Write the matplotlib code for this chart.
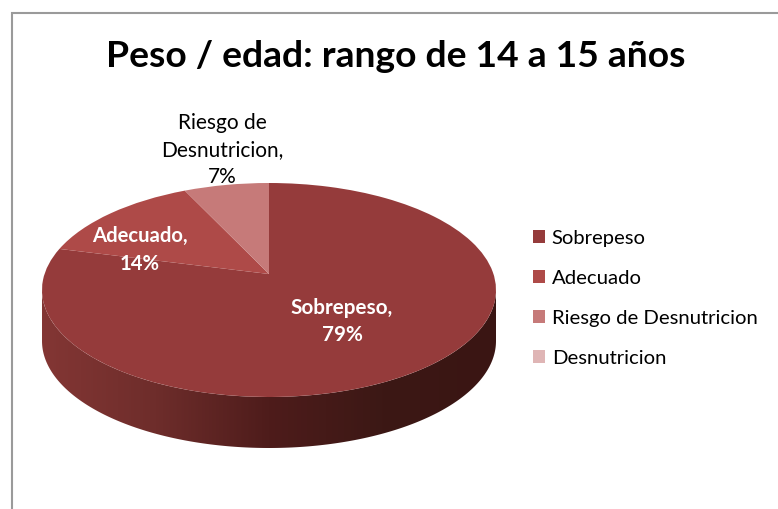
import numpy as np
import matplotlib
matplotlib.use('Agg')
import matplotlib.pyplot as plt
from matplotlib.colors import LinearSegmentedColormap
from matplotlib.patches import Polygon
from matplotlib.transforms import Transform

plt.rcParams['font.family'] = ['Lato', 'DejaVu Sans']

# data
categories = ['Sobrepeso', 'Adecuado', 'Riesgo de Desnutricion', 'Desnutricion']
values = [79, 14, 7, 0]
colors = ['#953b3b', '#ae4a48', '#c67a79', '#dfb5b5']
title = 'Peso / edad: rango de 14 a 15 años'

wall_colors = ['#833634', '#6e2d2b', '#4e1c1b', '#3c1815', '#3a1513']

# pie geometry in pixels
cx, cy = 269, 274
back, front, half_width = 91, 123, 227
depth = 51
k = (front - back) / (front + back)
a = back * (1 + k)
b = half_width * np.sqrt(1 - k * k)


# tilts the flat pie like a 3d one, the apex sits above the ellipse centre
class Tilt(Transform):
    input_dims = 2
    output_dims = 2

    def transform_non_affine(self, values):
        values = np.asarray(values, dtype=float)
        d = 1 + k * values[:, 1]
        return np.column_stack((cx + b * values[:, 0] / d, cy - a * values[:, 1] / d))


fig = plt.figure(figsize=(7.78, 5.09), dpi=100)
ax = fig.add_axes([0, 0, 1, 1])

wedges, _ = ax.pie(values, colors=colors, startangle=90, counterclock=False,
                   wedgeprops={'linewidth': 0})
for w in wedges:
    w.set_transform(Tilt() + ax.transData)
    w.set_zorder(3)

# side wall of the disc
ell_cy = cy + (front - back) / 2
ell_ry = (front + back) / 2
t = np.linspace(0, np.pi, 200)
top_x = cx + half_width * np.cos(t)
top_y = ell_cy + ell_ry * np.sin(t)
outline = np.column_stack((np.r_[top_x, top_x[::-1]], np.r_[top_y, top_y[::-1] + depth]))
wall = Polygon(outline, closed=True, facecolor='none', edgecolor='none',
               transform=ax.transData)
ax.add_patch(wall)
cmap = LinearSegmentedColormap.from_list('wall', wall_colors[::-1])
gradient = np.linspace(0, 1, 256).reshape(1, -1)[:, ::-1]
img = ax.imshow(gradient, cmap=cmap, aspect='auto', zorder=2,
                extent=(cx - half_width, cx + half_width, top_y.max() + depth, cy))
img.set_clip_path(wall)

ax.set_aspect('auto')
ax.set_xlim(0, 778)
ax.set_ylim(509, 0)
ax.axis('off')

# chart border, only left and top are inside the picture
ax.plot([12.5, 12.5, 778], [509, 12.5, 12.5], color='#9a9a9a', lw=1.5,
        solid_joinstyle='miter', zorder=1)

ax.text(396, 56, title, fontsize=26.8, fontweight='bold', color='black',
        ha='center', va='center')

ax.text(222, 150, 'Riesgo de\nDesnutricion,\n%d%%' % values[2], fontsize=15,
        ha='center', va='center', color='black', linespacing=1.45, zorder=4)
ax.text(140, 250, '%s,\n%d%%' % (categories[1], values[1]), fontsize=14.6, fontweight='bold',
        ha='center', va='center', color='white', linespacing=1.45, zorder=4)
ax.text(342, 321.5, '%s,\n%d%%' % (categories[0], values[0]), fontsize=14.9, fontweight='bold',
        ha='center', va='center', color='white', linespacing=1.45, zorder=4)

ax.legend(wedges, categories, loc='upper left', bbox_to_anchor=(533 / 778, 1 - 230 / 509),
          frameon=False, fontsize=14.6, handlelength=0.6, handleheight=0.6,
          handletextpad=0.33, labelspacing=1.135, borderpad=0, borderaxespad=0)

fig.savefig('out.png', dpi=100, facecolor='white')
